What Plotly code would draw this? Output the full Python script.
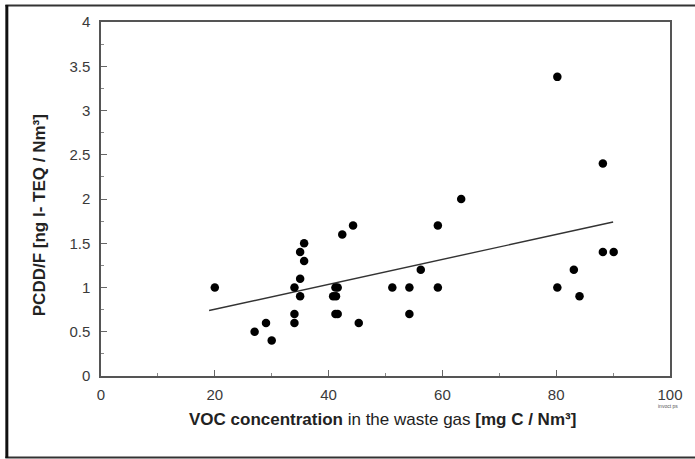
import plotly.graph_objects as go

# Measured data points (VOC mg C/Nm3, PCDD/F ng I-TEQ/Nm3)
voc = [20, 27, 29, 30, 34, 34, 34, 35, 35, 35, 35.7, 35.7,
       41.2, 41.6, 40.8, 41.3, 41.2, 41.6, 42.4, 44.3, 45.3,
       51.2, 54.2, 54.2, 56.2, 59.2, 59.2, 63.3,
       80.2, 80.2, 83.1, 84.1, 88.2, 88.2, 90.1]
pcdd = [1.0, 0.5, 0.6, 0.4, 1.0, 0.7, 0.6, 0.9, 1.1, 1.4, 1.5, 1.3,
        1.0, 1.0, 0.9, 0.9, 0.7, 0.7, 1.6, 1.7, 0.6,
        1.0, 1.0, 0.7, 1.2, 1.7, 1.0, 2.0,
        3.38, 1.0, 1.2, 0.9, 2.4, 1.4, 1.4]

# Regression line end points
trend_x = [19, 90]
trend_y = [0.74, 1.74]

x_ticks = [0, 20, 40, 60, 80, 100]
y_ticks = [0, 0.5, 1, 1.5, 2, 2.5, 3, 3.5, 4]

fig = go.Figure()
fig.add_trace(go.Scatter(x=trend_x, y=trend_y, mode="lines",
                         line=dict(color="#333333", width=1.4),
                         showlegend=False, hoverinfo="skip"))
fig.add_trace(go.Scatter(x=voc, y=pcdd, mode="markers",
                         marker=dict(color="black", size=8.5),
                         showlegend=False))

L, R, T, B = 101, 23, 22, 83
W, H = 695, 459
pw, ph = W - L - R, H - T - B

def px(xp):
    return (xp - L) / pw

def py(yp):
    return (H - B - yp) / ph

FAM = "Liberation Sans, Arial, sans-serif"
tick_font = dict(family=FAM, size=15, color="#3a3a3a")

fig.update_layout(
    width=W, height=H,
    margin=dict(l=L, r=R, t=T, b=B),
    paper_bgcolor="white", plot_bgcolor="white",
    font=tick_font,
    xaxis=dict(range=[0, 100], tickvals=x_ticks, ticktext=[str(v) for v in x_ticks],
               ticks="inside", ticklen=6, tickcolor="#666666", ticklabelstandoff=4,
               minor=dict(dtick=10, ticks="inside", ticklen=3, tickcolor="#888888"),
               showline=True, linecolor="#555555", linewidth=1.5, mirror=True,
               showgrid=False, zeroline=False, tickfont=tick_font),
    yaxis=dict(range=[0, 4], tickvals=y_ticks, ticktext=[f"{v:g}" for v in y_ticks],
               ticks="inside", ticklen=6, tickcolor="#666666", ticklabelstandoff=6,
               minor=dict(dtick=0.25, ticks="inside", ticklen=3, tickcolor="#888888"),
               showline=True, linecolor="#555555", linewidth=1.5, mirror=True,
               showgrid=False, zeroline=False, tickfont=tick_font),
)

title_font = dict(family=FAM, size=17, color="#222222")
fig.add_annotation(xref="paper", yref="paper", x=px(383), y=py(419),
                   xanchor="center", yanchor="middle",
                   text="<b>VOC concentration</b> in the waste gas <b>[mg C / Nm³]</b>",
                   showarrow=False, font=title_font)
fig.add_annotation(xref="paper", yref="paper", x=px(39), y=py(215),
                   xanchor="center", yanchor="middle",
                   text="<b>PCDD/F [ng I- TEQ / Nm³]</b>", textangle=-90,
                   showarrow=False, font=title_font)
fig.add_annotation(xref="paper", yref="paper", x=px(670), y=py(406),
                   xanchor="center", yanchor="middle",
                   text="invoct ps", showarrow=False,
                   font=dict(family=FAM, size=5, color="#555555"))

# outer frame
frame = dict(type="line", xref="paper", yref="paper")
fig.add_shape(**frame, x0=px(5), x1=px(700), y0=py(5.5), y1=py(5.5),
              line=dict(color="#333333", width=2))
fig.add_shape(**frame, x0=px(5), x1=px(700), y0=py(457.5), y1=py(457.5),
              line=dict(color="#333333", width=2))
fig.add_shape(**frame, x0=px(6.5), x1=px(6.5), y0=py(5), y1=py(458),
              line=dict(color="#111111", width=3))

fig.write_html("out.html")
